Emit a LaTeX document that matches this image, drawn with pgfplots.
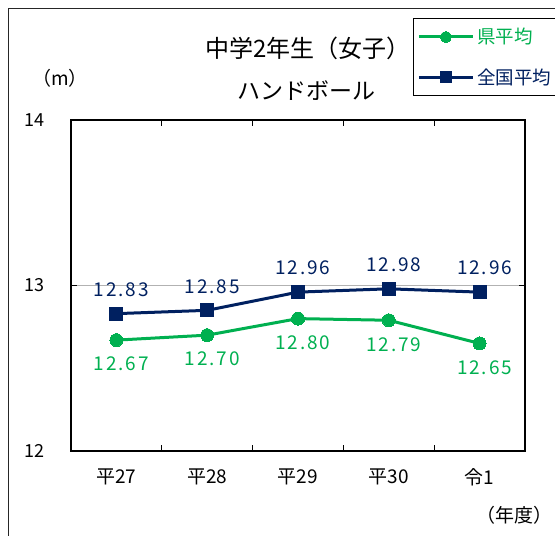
\documentclass[border=0pt]{standalone}
\usepackage{fontspec}
\setmainfont{Noto Sans CJK JP}
\newfontfamily\lblfont[LetterSpace=10]{Noto Sans CJK JP}
\usepackage{pgfplots}
\pgfplotsset{compat=1.18}
\definecolor{kgreen}{RGB}{0,176,80}
\definecolor{knavy}{RGB}{0,32,96}
\begin{document}
\begin{tikzpicture}
\path[use as bounding box] (0pt,0pt) rectangle (555pt,-536pt);
\draw[line width=1pt, black!85] (8.5pt,-540pt) -- (8.5pt,-8pt) -- (560pt,-8pt);
\node[font=\fontsize{24}{28}\selectfont] at (308pt,-48pt) {中学2年生（女子）};
\node[font=\fontsize{23}{27}\selectfont] at (306pt,-91pt) {ハンドボール};
\node[font=\fontsize{19}{22}\selectfont] at (60pt,-78pt) {（m）};
\node[font=\fontsize{19}{22}\selectfont] at (514pt,-515pt) {（年度）};
\begin{axis}[
  at={(71pt,-451pt)}, anchor=south west,
  scale only axis, width=454pt, height=331pt,
  xmin=-0.5, xmax=4.5, ymin=12, ymax=14,
  xtick={0,1,2,3,4},
  xticklabels={平27,平28,平29,平30,令1},
  minor xtick={0.5,1.5,2.5,3.5},
  ytick={12,13,14},
  major tick length=6pt, minor tick length=6pt,
  tick align=inside,
  major x tick style={draw=none},
  minor x tick style={black, line width=0.8pt},
  major y tick style={black, line width=0.8pt},
  ymajorgrids,
  major grid style={black!30, line width=1.5pt},
  axis line style={line width=2.5pt, black},
  /pgf/number format/assume math mode=true,
  yticklabel style={anchor=west, xshift=-50pt, font=\fontsize{18}{20}\selectfont},
  xticklabel style={yshift=-14pt, font=\fontsize{19}{22}\selectfont},
  clip=false,
  legend style={at={(0.7533,1.308)}, anchor=north west, draw=black, line width=0.8pt,
    fill=white, inner xsep=4pt, inner ysep=7pt, row sep=17pt,
    nodes={inner sep=3pt, anchor=west},
    font=\fontsize{18.5}{21}\selectfont},
  legend cell align=left,
  legend image code/.code={\draw[mark repeat=2,mark phase=2,#1, mark size=5.5pt] plot coordinates {(0pt,0pt) (27pt,0pt) (54pt,0pt)};},
]
\addplot[kgreen, line width=3pt, mark=*, mark size=6.5pt, mark options={solid, fill=kgreen, draw=kgreen, line width=0pt},
  nodes near coords={\pgfmathprintnumber[fixed,fixed zerofill,precision=2]{\pgfplotspointmeta}},
  every node near coord/.append style={anchor=center, yshift=-24pt, xshift=5pt, text=kgreen, font=\lblfont\fontsize{19}{21}\selectfont}]
  coordinates {(0,12.67) (1,12.70) (2,12.80) (3,12.79) (4,12.65)};
\addlegendentry{\textcolor{kgreen}{県平均}}
\addplot[knavy, line width=3pt, mark=square*, mark size=6.5pt, mark options={solid, fill=knavy, draw=knavy, line width=0pt},
  nodes near coords={\pgfmathprintnumber[fixed,fixed zerofill,precision=2]{\pgfplotspointmeta}},
  every node near coord/.append style={anchor=center, yshift=24pt, xshift=5pt, text=knavy, font=\lblfont\fontsize{19}{21}\selectfont}]
  coordinates {(0,12.83) (1,12.85) (2,12.96) (3,12.98) (4,12.96)};
\addlegendentry{\textcolor{knavy}{全国平均}\hspace*{6pt}}
\end{axis}
\end{tikzpicture}
\end{document}
